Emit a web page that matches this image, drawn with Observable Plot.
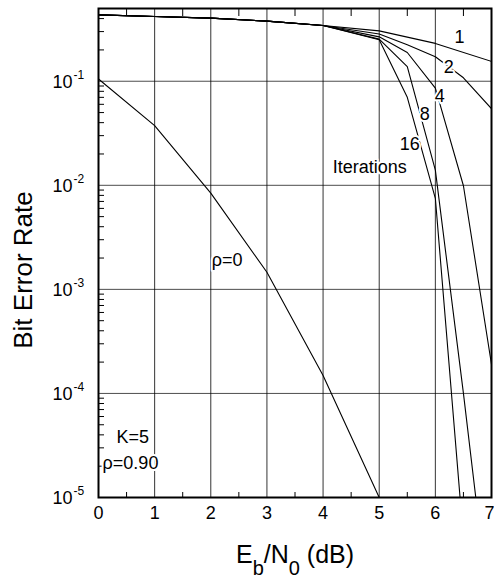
<!DOCTYPE html>
<html><head><meta charset="utf-8">
<script src="https://cdn.jsdelivr.net/npm/d3@7"></script>
<script src="https://cdn.jsdelivr.net/npm/@observablehq/plot@0.6"></script>
<style>html,body{margin:0;padding:0;background:#fff;} svg{display:block;overflow:hidden;}</style>
</head><body><div id="chart"></div>
<script>
// ---- data ----
const ebn0Rho0 = [0, 1, 2, 3, 4, 5];
const berRho0  = [0.105, 0.0374, 0.0084, 0.00146, 0.000149, 0.00001];

const ebn0It1 = [0, 1, 2, 3, 4, 5, 6, 7];
const berIt1  = [0.434, 0.419, 0.404, 0.378, 0.343, 0.305, 0.231, 0.155];
const ebn0It2 = [0, 1, 2, 3, 4, 5, 5.5, 6, 6.5, 7];
const berIt2  = [0.434, 0.419, 0.404, 0.378, 0.343, 0.284, 0.224, 0.172, 0.108, 0.0545];
const ebn0It4 = [0, 1, 2, 3, 4, 5, 5.5, 6, 6.5, 7];
const berIt4  = [0.434, 0.419, 0.404, 0.378, 0.343, 0.267, 0.189, 0.086, 0.0099, 0.00019];
const ebn0It8 = [0, 1, 2, 3, 4, 5, 5.5, 6, 6.5, 6.72];
const berIt8  = [0.434, 0.419, 0.404, 0.378, 0.343, 0.254, 0.138, 0.014, 0.0001, 0.00001];
const ebn0It16 = [0, 1, 2, 3, 4, 5, 5.5, 6, 6.44];
const berIt16  = [0.434, 0.419, 0.404, 0.378, 0.343, 0.25, 0.07, 0.0075, 0.00001];

// tick values and labels
const xTickValues = [0, 1, 2, 3, 4, 5, 6, 7];
const xTickLabels = ["0", "1", "2", "3", "4", "5", "6", "7"];
const xMinorTicks = [0.5, 1.5, 2.5, 3.5, 4.5, 5.5, 6.5];
const yTickValues = [1e-1, 1e-2, 1e-3, 1e-4, 1e-5];
const yTickBase = "10";
const yTickExps = ["-1", "-2", "-3", "-4", "-5"];
const yMinorTicks = [];
for (let e = -5; e <= -1; e++) for (let m = 2; m <= 9; m++) { const v = m * Math.pow(10, e); if (v <= 0.5) yMinorTicks.push(v); }

// annotations
const curveLabelText = ["1", "2", "4", "8", "16", "Iterations"];
const curveLabelX = [6.43, 6.24, 6.08, 5.81, 5.545, 4.83];
const curveLabelY = [0.263, 0.1355, 0.071, 0.0477, 0.025, 0.0149];
const noteText = ["ρ=0", "K=5", "ρ=0.90"];
const noteX = [2.29, 0.61, 0.57];
const noteY = [0.00189, 3.79e-5, 2.12e-5];

// ---- build tables ----
const series = [
  ["rho0", ebn0Rho0, berRho0],
  ["1", ebn0It1, berIt1],
  ["2", ebn0It2, berIt2],
  ["4", ebn0It4, berIt4],
  ["8", ebn0It8, berIt8],
  ["16", ebn0It16, berIt16]
];
const rows = series.flatMap(([s, xs, ys]) => xs.map((x, i) => ({s, x, y: ys[i]})));
const curveLabels = curveLabelText.map((t, i) => ({t, x: curveLabelX[i], y: curveLabelY[i]}));
const notes = noteText.map((t, i) => ({t, x: noteX[i], y: noteY[i]}));
const yTicks = yTickValues.map((v, i) => ({v, e: yTickExps[i]}));
const xTicks = xTickValues.map((v, i) => ({v, l: xTickLabels[i]}));
const xTicksInner = xTicks.slice(0, -1);
const xTicksLast = xTicks.slice(-1);

const font = "'Liberation Sans', Arial, Helvetica, sans-serif";

const chart = Plot.plot({
  width: 494,
  height: 578,
  marginLeft: 98,
  marginRight: 3,
  marginTop: 8,
  marginBottom: 81,
  style: {fontFamily: font, background: "#fff", color: "#000"},
  x: {domain: [0, 7]},
  y: {type: "log", domain: [1e-5, 0.5]},
  marks: [
    Plot.gridX(xTickValues, {stroke: "#000", strokeOpacity: 0.8, strokeWidth: 1}),
    Plot.gridY(yTickValues, {stroke: "#000", strokeOpacity: 0.7, strokeWidth: 1}),
    Plot.axisX(xMinorTicks, {anchor: "bottom", tickSize: -5, fill: "none", label: null}),
    Plot.axisX(xMinorTicks, {anchor: "top", tickSize: -7, fill: "none", label: null}),
    Plot.axisY(yMinorTicks, {anchor: "left", tickSize: -6, fill: "none", label: null}),
    Plot.line(rows, {x: "x", y: "y", z: "s", stroke: "#000", strokeWidth: 1.1, clip: true}),
    Plot.text(curveLabels, {x: "x", y: "y", text: "t", fontSize: 18, fill: "#000", stroke: "#fff", strokeWidth: 4}),
    Plot.text(notes, {x: "x", y: "y", text: "t", fontSize: 18, fill: "#000", stroke: "#fff", strokeWidth: 4}),
    Plot.frame({stroke: "#000", strokeWidth: 2}),
    Plot.text(yTicks, {y: "v", text: () => yTickBase, frameAnchor: "left", textAnchor: "end", dx: -26, dy: 1, fontSize: 18, fill: "#000"}),
    Plot.text(yTicks, {y: "v", text: "e", frameAnchor: "left", textAnchor: "start", dx: -25, dy: -6, fontSize: 12, fill: "#000"}),
    Plot.text(xTicksInner, {x: "v", text: "l", frameAnchor: "bottom", dy: 21, fontSize: 18, fill: "#000"}),
    Plot.text(xTicksLast, {x: "v", text: "l", frameAnchor: "bottom", dy: 21, dx: -2, fontSize: 18, fill: "#000"})
  ]
});
document.getElementById("chart").appendChild(chart);

// axis titles with sub-/superscripts
const svg = d3.select(chart);
svg.append("text")
  .attr("transform", "translate(32,270) rotate(-90)")
  .attr("text-anchor", "middle")
  .attr("font-family", font)
  .attr("font-size", 26)
  .attr("fill", "#000")
  .text("Bit Error Rate");

const xt = svg.append("text")
  .attr("x", 295).attr("y", 563)
  .attr("text-anchor", "middle")
  .attr("font-family", font)
  .attr("font-size", 25)
  .attr("fill", "#000");
xt.append("tspan").text("E");
xt.append("tspan").attr("dy", 12).attr("font-size", 20).text("b");
xt.append("tspan").attr("dy", -12).text("/N");
xt.append("tspan").attr("dy", 12).attr("font-size", 20).text("0");
xt.append("tspan").attr("dy", -12).text(" (dB)");
</script>
</body></html>
